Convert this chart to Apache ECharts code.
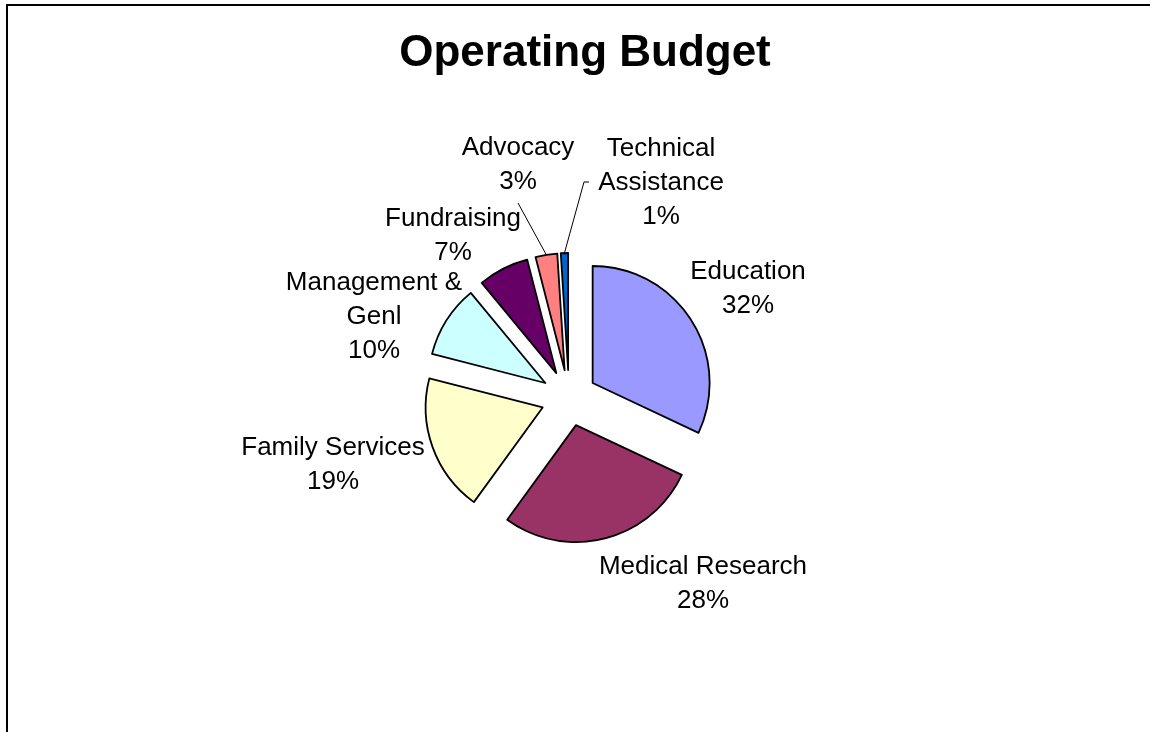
<!DOCTYPE html>
<html>
<head>
<meta charset="utf-8">
<script src="https://cdn.jsdelivr.net/npm/echarts@6/dist/echarts.min.js"></script>
<style>
  html, body { margin: 0; padding: 0; background: #ffffff; }
  #chart { width: 1150px; height: 732px; }
</style>
</head>
<body>
<div id="chart"></div>
<script>
// Operating budget shares, in percent, clockwise from 12 o'clock
const categories = ['Education', 'Medical Research', 'Family Services', 'Management &\nGenl', 'Fundraising', 'Advocacy', 'Technical\nAssistance'];
const shares = [32, 28, 19, 10, 7, 3, 1];
const sliceColors = ['#9999FF', '#993366', '#FFFFCC', '#CCFFFF', '#660066', '#FF8080', '#0066CC'];

// Pie geometry (pixels)
const PIE_CX = 569, PIE_CY = 398, PIE_R = 117, EXPLODE = 28;
const FONT_FAMILY = 'Liberation Sans, Arial, sans-serif';

// Label block centres, one per slice
const labelAnchors = [[748, 289], [703, 584], [333, 465], [374, 317], [453, 236], [518, 165], [661, 183]];
// Leader lines: slice index -> where the line meets the label
const leaders = [
  { index: 5, ends: [[518, 203]] },
  { index: 6, ends: [[584, 182], [589, 182]] }
];

const chart = echarts.init(document.getElementById('chart'), null, { renderer: 'canvas' });

const total = shares.reduce((a, b) => a + b, 0);
function midAngle(i) {
  let start = 0;
  for (let k = 0; k < i; k++) start += shares[k];
  return (start + shares[i] / 2) / total * 2 * Math.PI;
}
function slicePoint(i) {
  const a = midAngle(i);
  const r = PIE_R + EXPLODE;
  return [PIE_CX + r * Math.sin(a), PIE_CY - r * Math.cos(a)];
}

const leaderGraphics = leaders.map(l => ({
  type: 'polyline',
  silent: true,
  z: 10,
  shape: { points: [slicePoint(l.index)].concat(l.ends) },
  style: { stroke: '#000000', lineWidth: 1, fill: null }
}));

// Slice labels: name and share
const labelGraphics = categories.map((name, i) => ({
  type: 'text',
  silent: true,
  z: 10,
  x: labelAnchors[i][0],
  y: labelAnchors[i][1],
  style: {
    text: name + '\n' + shares[i] + '%',
    fill: '#000000',
    fontFamily: FONT_FAMILY,
    fontSize: 26,
    lineHeight: 34,
    align: 'center',
    verticalAlign: 'middle',
    textAlign: 'center',
    textVerticalAlign: 'middle'
  }
}));

chart.setOption({
  animation: false,
  backgroundColor: '#ffffff',
  title: {
    text: 'Operating Budget',
    left: 585,
    top: 32,
    padding: 0,
    textAlign: 'center',
    textStyle: { fontFamily: FONT_FAMILY, fontSize: 44, fontWeight: 'bold', color: '#000000' }
  },
  graphic: [
    {
      type: 'rect',
      silent: true,
      shape: { x: 7, y: 5, width: 1300, height: 900 },
      style: { fill: null, stroke: '#000000', lineWidth: 2 }
    }
  ].concat(leaderGraphics, labelGraphics),
  series: [{
    type: 'pie',
    center: [PIE_CX, PIE_CY],
    radius: PIE_R,
    startAngle: 90,
    clockwise: true,
    selectedMode: 'multiple',
    selectedOffset: EXPLODE,
    emphasis: { disabled: true, scale: false },
    select: { itemStyle: { borderColor: '#000000', borderWidth: 1.8 } },
    itemStyle: { borderColor: '#000000', borderWidth: 1.8 },
    label: { show: false },
    labelLine: { show: false },
    data: categories.map((name, i) => ({
      name: name,
      value: shares[i],
      selected: true,
      itemStyle: { color: sliceColors[i] }
    }))
  }]
});
</script>
</body>
</html>
